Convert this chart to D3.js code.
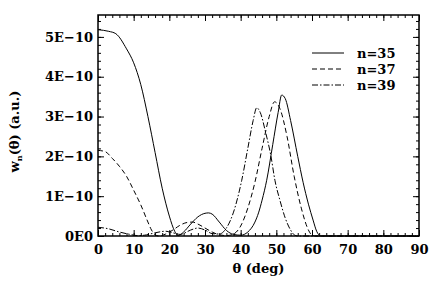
<!DOCTYPE html>
<html>
<head>
<meta charset="utf-8">
<script src="https://cdn.jsdelivr.net/npm/d3@7"></script>
<style>
  body { margin: 0; background: #fff; }
  text { font-family: 'DejaVu Serif', 'Liberation Serif', serif; font-weight: bold; fill: #000; }
</style>
</head>
<body>
<svg id="chart" width="431" height="286"></svg>
<script>
// values in units of 1E-10 (a.u.)
const theta35 = [0, 3, 5, 8, 10, 12, 14, 16, 18, 20, 21.5, 22.5, 24, 26, 28, 30, 31, 32, 34, 36, 38, 40, 42, 44, 45, 46, 47.3, 49, 50.5, 51.5, 52.5, 54, 56, 57.5, 59, 60.3, 61.3, 62.5, 90];
const w35 = [5.18, 5.14, 5.08, 4.7, 4.35, 3.8, 3.0, 2.1, 1.2, 0.5, 0.12, 0.01, 0.1, 0.3, 0.48, 0.57, 0.58, 0.55, 0.35, 0.14, 0.04, 0.02, 0.1, 0.35, 0.58, 0.9, 1.4, 2.3, 3.1, 3.54, 3.45, 2.9, 2.0, 1.35, 0.8, 0.4, 0.12, 0, 0];

const theta37 = [0, 2, 4, 6, 8, 10, 12, 14, 15, 16, 17, 19, 21, 23, 25, 26.5, 28, 30, 32, 34, 36, 38, 40, 42, 44, 46, 48, 49.5, 51, 53, 55, 57, 59, 60, 61, 90];
const w37 = [2.15, 2.12, 1.95, 1.75, 1.5, 1.15, 0.78, 0.35, 0.15, 0.03, 0, 0.05, 0.15, 0.27, 0.34, 0.35, 0.3, 0.2, 0.1, 0.03, 0.01, 0.05, 0.25, 0.7, 1.35, 2.2, 3.0, 3.37, 3.2, 2.5, 1.5, 0.7, 0.15, 0.02, 0, 0];

const theta39 = [0, 3, 6, 9, 11, 13, 16, 19, 21, 23, 26, 28, 30, 32, 34, 36, 38, 40.3, 42, 43.5, 44.5, 45.5, 47, 48.5, 49.6, 51, 52.5, 54, 55, 56, 90];
const w39 = [0.22, 0.18, 0.1, 0.04, 0.01, 0.02, 0.08, 0.12, 0.08, 0.04, 0.15, 0.2, 0.15, 0.06, 0.05, 0.2, 0.6, 1.4, 2.2, 2.9, 3.22, 3.1, 2.6, 2.0, 1.4, 0.9, 0.45, 0.15, 0.03, 0, 0];

const seriesNames = ['n=35', 'n=37', 'n=39'];
const xTicks = [0, 10, 20, 30, 40, 50, 60, 70, 80, 90];
const yTicks = [0, 1, 2, 3, 4, 5];
const yTickLabels = ['0E0', '1E\u221210', '2E\u221210', '3E\u221210', '4E\u221210', '5E\u221210'];

const margin = { top: 15, right: 12, bottom: 50, left: 98 };
const W = 431, H = 286;
const width = W - margin.left - margin.right;
const height = H - margin.top - margin.bottom;

const svg = d3.select('#chart');
const g = svg.append('g').attr('transform', `translate(${margin.left},${margin.top})`);

const x = d3.scaleLinear().domain([0, 90]).range([0, width]);
const y = d3.scaleLinear().domain([0, 5.55]).range([height, 0]);

const dashes = [null, '5,3', '6,2,1.5,2'];
const series = [
  { name: seriesNames[0], x: theta35, y: w35 },
  { name: seriesNames[1], x: theta37, y: w37 },
  { name: seriesNames[2], x: theta39, y: w39 }
];

const line = d3.line()
  .x(d => x(d[0]))
  .y(d => y(d[1]))
  .curve(d3.curveMonotoneX);

series.forEach((s, i) => {
  g.append('path')
    .datum(s.x.map((t, k) => [t, s.y[k]]))
    .attr('d', line)
    .attr('fill', 'none')
    .attr('stroke', '#000')
    .attr('stroke-width', 1)
    .attr('stroke-dasharray', dashes[i]);
});

// Axes with inward ticks on all four sides
const xMinor = d3.range(0, 91, 2);
const yMinor = d3.range(0, 5.55, 0.2);

g.append('g').attr('transform', `translate(0,${height})`)
  .call(d3.axisBottom(x).tickValues(xMinor).tickSize(-3).tickFormat(''));
g.append('g').attr('transform', `translate(0,${height})`)
  .call(d3.axisBottom(x).tickValues(xTicks).tickSize(-6).tickPadding(9).tickFormat(d3.format('d')));
g.append('g')
  .call(d3.axisTop(x).tickValues(xMinor).tickSize(-3).tickFormat(''));
g.append('g')
  .call(d3.axisTop(x).tickValues(xTicks).tickSize(-6).tickFormat(''));

g.append('g')
  .call(d3.axisLeft(y).tickValues(yMinor).tickSize(-3).tickFormat(''));
g.append('g')
  .call(d3.axisLeft(y).tickValues(yTicks).tickSize(-6).tickPadding(5).tickFormat((d, i) => yTickLabels[i]));
g.append('g').attr('transform', `translate(${width},0)`)
  .call(d3.axisRight(y).tickValues(yMinor).tickSize(-3).tickFormat(''));
g.append('g').attr('transform', `translate(${width},0)`)
  .call(d3.axisRight(y).tickValues(yTicks).tickSize(-6).tickFormat(''));

g.selectAll('.domain').remove();
g.selectAll('.tick line').attr('stroke', '#000').attr('stroke-width', 1);
g.selectAll('.tick text').style('font-size', '13px').attr('fill', '#000');

// frame
g.append('rect')
  .attr('width', width).attr('height', height)
  .attr('fill', 'none').attr('stroke', '#000').attr('stroke-width', 1.5);

// axis titles
g.append('text')
  .attr('x', width / 2).attr('y', height + 37)
  .attr('text-anchor', 'middle')
  .style('font-size', '13px')
  .text('\u03b8 (deg)');

const yl = svg.append('text')
  .attr('transform', `translate(19,${margin.top + height / 2 + 6}) rotate(-90)`)
  .attr('text-anchor', 'middle')
  .style('font-size', '13px');
yl.append('tspan').text('w');
yl.append('tspan').attr('dy', 3).style('font-size', '8px').text('n');
yl.append('tspan').attr('dy', -3).text('(\u03b8) (a.u.)');

// legend
const legend = g.selectAll('.legend')
  .data(series)
  .enter().append('g')
  .attr('class', 'legend')
  .attr('transform', (d, i) => `translate(${214}, ${38 + i * 16})`);

legend.append('line')
  .attr('x1', 0).attr('x2', 32)
  .attr('stroke', '#000').attr('stroke-width', 1)
  .attr('stroke-dasharray', (d, i) => dashes[i]);

legend.append('text')
  .attr('x', 45).attr('dy', '.35em')
  .style('font-size', '13px')
  .text(d => d.name);
</script>
</body>
</html>
